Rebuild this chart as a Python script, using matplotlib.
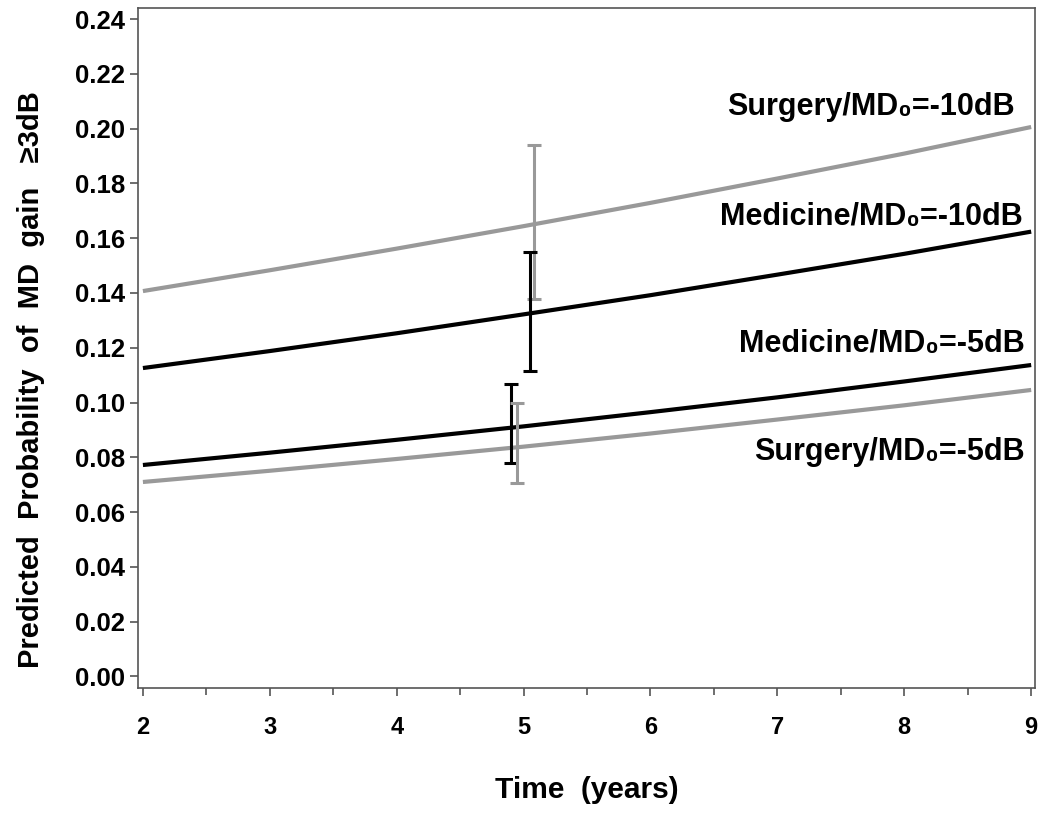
import matplotlib
matplotlib.use("Agg")
import matplotlib.pyplot as plt
from matplotlib.ticker import MultipleLocator, FormatStrFormatter

plt.rcParams['font.family'] = ['Liberation Sans', 'DejaVu Sans']
plt.rcParams['font.weight'] = 'bold'

years = [2, 3, 4, 5, 6, 7, 8, 9]
surgery_m10 = [0.1407, 0.1483, 0.1562, 0.1644, 0.1729, 0.1818, 0.1909, 0.2006]
medicine_m10 = [0.1126, 0.1188, 0.1253, 0.1322, 0.1392, 0.1467, 0.1543, 0.1624]
medicine_m5 = [0.0772, 0.0817, 0.0864, 0.0913, 0.0965, 0.1019, 0.1077, 0.1137]
surgery_m5 = [0.0710, 0.0751, 0.0794, 0.0839, 0.0887, 0.0938, 0.0990, 0.1046]

# error bars at year 5 (slightly offset): x, lower, upper
err_x = [5.08, 5.05, 4.90, 4.95]
err_lo = [0.1378, 0.1116, 0.0778, 0.0708]
err_hi = [0.1940, 0.1551, 0.1067, 0.0997]
err_colors = ['#999999', 'black', 'black', '#999999']

labels = ['Surgery/MD\u2080=-10dB', 'Medicine/MD\u2080=-10dB',
          'Medicine/MD\u2080=-5dB', 'Surgery/MD\u2080=-5dB']
label_y = [0.2078, 0.1676, 0.1212, 0.0820]
label_xr = [8.87, 8.93, 8.95, 8.95]

GRAY = '#999999'
fig = plt.figure(figsize=(10.5, 8.13), dpi=100)
ax = fig.add_axes([0.1314, 0.1538, 0.8543, 0.8362])

ax.plot(years, surgery_m10, color=GRAY, lw=3, solid_capstyle='butt')
ax.plot(years, medicine_m10, color='black', lw=3, solid_capstyle='butt')
ax.plot(years, medicine_m5, color='black', lw=3, solid_capstyle='butt')
ax.plot(years, surgery_m5, color=GRAY, lw=3, solid_capstyle='butt')

for x, lo, hi, c in zip(err_x, err_lo, err_hi, err_colors):
    mid = (lo + hi) / 2
    ax.errorbar([x], [mid], yerr=[[mid - lo], [hi - mid]], fmt='none',
                ecolor=c, elinewidth=2.2, capsize=5, capthick=2.2)

for t, y, xr in zip(labels, label_y, label_xr):
    ax.text(xr, y, t, ha='right', va='center', fontsize=22, fontweight='bold')

ax.set_xlim(1.961, 9.03)
ax.set_ylim(-0.0042, 0.244)
ax.xaxis.set_major_locator(MultipleLocator(1))
ax.xaxis.set_minor_locator(MultipleLocator(0.5))
ax.yaxis.set_major_locator(MultipleLocator(0.02))
ax.yaxis.set_major_formatter(FormatStrFormatter('%.2f'))

for s in ax.spines.values():
    s.set_color('#555555')
    s.set_linewidth(1.2)
ax.tick_params(axis='both', which='major', length=6, width=1.2, color='#555555',
               direction='out')
ax.tick_params(axis='y', labelsize=18.5, pad=3)
ax.tick_params(axis='x', labelsize=17, pad=14)
ax.tick_params(axis='x', which='minor', length=5, width=1.2, color='#555555')
for lab in ax.get_xticklabels() + ax.get_yticklabels():
    lab.set_fontweight('bold')

ax.set_xlabel('Time  (years)', fontsize=21.5, fontweight='bold', labelpad=27)
ax.set_ylabel('Predicted  Probability  of  MD  gain   \u22653dB', fontsize=21,
              fontweight='bold')
ax.yaxis.set_label_coords(-0.104, 0.453)

fig.savefig('out.png', dpi=100)
